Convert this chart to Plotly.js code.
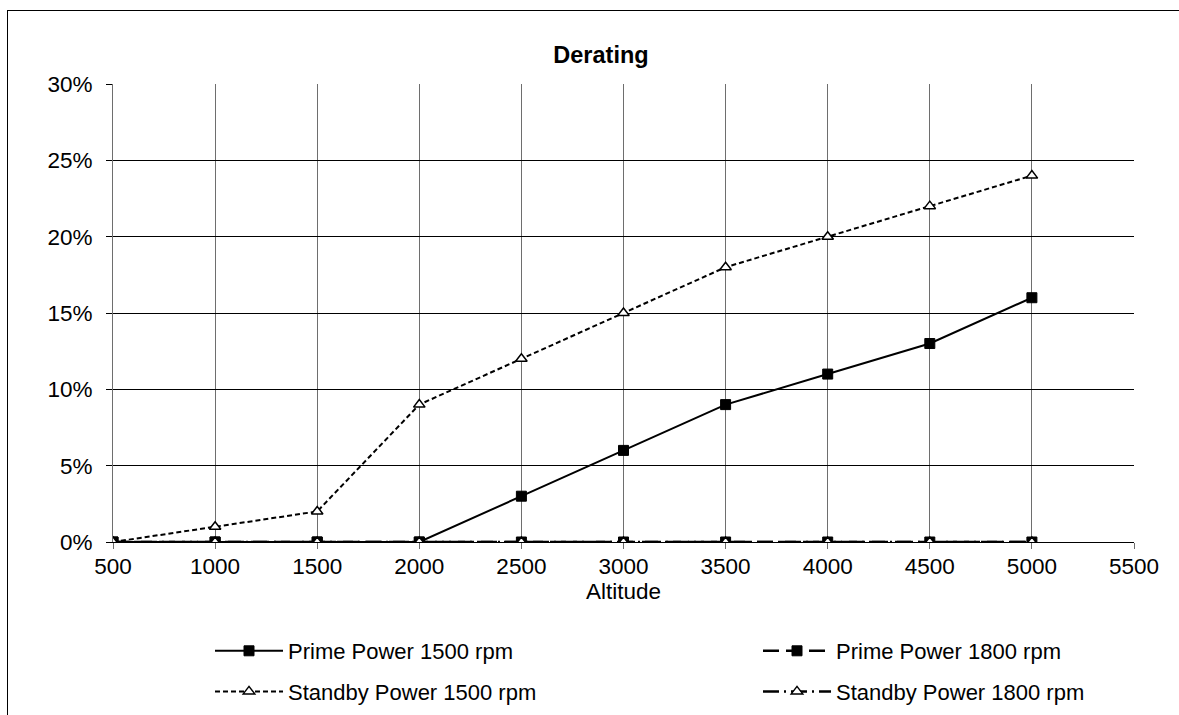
<!DOCTYPE html>
<html>
<head>
<meta charset="utf-8">
<script src="https://cdn.plot.ly/plotly-3.0.1.min.js"></script>
<style>
html,body{margin:0;padding:0;overflow:hidden;background:#fff;}
#chart{width:1179px;height:715px;position:relative;}
#frame{position:absolute;left:7px;top:10px;width:1200px;height:740px;border:1px solid #000;pointer-events:none;box-sizing:border-box;}
</style>
</head>
<body>
<div id="chart"></div>
<div id="frame"></div>
<script>
var altitude = [500, 1000, 1500, 2000, 2500, 3000, 3500, 4000, 4500, 5000];
var prime1500 = [0, 0, 0, 0, 0.03, 0.06, 0.09, 0.11, 0.13, 0.16];
var prime1800 = [0, 0, 0, 0, 0, 0, 0, 0, 0, 0];
var standby1500 = [0, 0.01, 0.02, 0.09, 0.12, 0.15, 0.18, 0.20, 0.22, 0.24];
var standby1800 = [0, 0, 0, 0, 0, 0, 0, 0, 0, 0];
var seriesNames = ['Prime Power 1500 rpm', 'Prime Power 1800 rpm', 'Standby Power 1500 rpm', 'Standby Power 1800 rpm'];

var FONT = '"Liberation Sans", Arial, sans-serif';
var FS = 22.5;
var LFS = 22;
var sq = {symbol: 'square', size: 10, color: '#000', line: {color: '#000', width: 1}};
var tri = {symbol: 'triangle-up', size: 10, color: '#fff', line: {color: '#000', width: 1.5}};

var traces = [
  {x: altitude, y: prime1500, name: seriesNames[0], mode: 'lines+markers',
   line: {color: '#000', width: 2}, marker: sq, legend: 'legend', legendgroup: 'a'},
  {x: altitude, y: standby1500, name: seriesNames[2], mode: 'lines+markers',
   line: {color: '#000', width: 2, dash: '5px,3px'}, marker: tri, legend: 'legend', legendgroup: 'b'},
  {x: altitude, y: prime1800, name: seriesNames[1], mode: 'lines+markers',
   line: {color: '#000', width: 2.5, dash: '16px,7px'}, marker: sq, legend: 'legend2', legendgroup: 'c'},
  {x: altitude, y: standby1800, name: seriesNames[3], mode: 'lines+markers',
   line: {color: '#000', width: 2.5, dash: '16px,5px,2px,5px'}, marker: tri, legend: 'legend2', legendgroup: 'd'}
];

var legendBase = {
  orientation: 'v', yanchor: 'top', xanchor: 'left',
  font: {family: FONT, size: LFS, color: '#000'},
  bgcolor: 'rgba(0,0,0,0)', borderwidth: 0,
  tracegroupgap: 9, itemwidth: 68, traceorder: 'grouped'
};

var layout = {
  width: 1179, height: 715,
  margin: {l: 113, r: 45, t: 84, b: 173, autoexpand: false},
  paper_bgcolor: '#fff', plot_bgcolor: '#fff',
  font: {family: FONT, size: FS, color: '#000'},
  title: {text: '<b>Derating</b>', font: {family: FONT, size: 23.5, color: '#000'},
          xref: 'container', yref: 'container', x: 601/1179, xanchor: 'center',
          y: 1 - 55/715, yanchor: 'middle'},
  xaxis: {
    range: [500, 5500], dtick: 500, tick0: 500,
    showgrid: true, gridcolor: '#6e6e6e', gridwidth: 1,
    zeroline: false, showline: true, linecolor: '#000', linewidth: 1,
    ticks: 'outside', ticklen: 6, tickcolor: '#6e6e6e', ticklabelstandoff: -2,
    tickfont: {family: FONT, size: FS, color: '#000'},
    title: {text: 'Altitude', font: {family: FONT, size: FS, color: '#000'}, standoff: 0}
  },
  yaxis: {
    range: [0, 0.3], dtick: 0.05, tickformat: '.0%',
    showgrid: true, gridcolor: '#000', gridwidth: 1,
    zeroline: false, showline: true, linecolor: '#6e6e6e', linewidth: 1,
    ticks: 'outside', ticklen: 6, tickcolor: '#000', ticklabelstandoff: 9,
    tickfont: {family: FONT, size: FS, color: '#000'}
  },
  legend: Object.assign({}, legendBase, {x: (210 - 113) / 1021, y: (542 - 630) / 458}),
  legend2: Object.assign({}, legendBase, {x: (758 - 113) / 1021, y: (542 - 630) / 458}),
  showlegend: true
};

Plotly.newPlot('chart', traces, layout, {staticPlot: true, displayModeBar: false});
</script>
</body>
</html>
